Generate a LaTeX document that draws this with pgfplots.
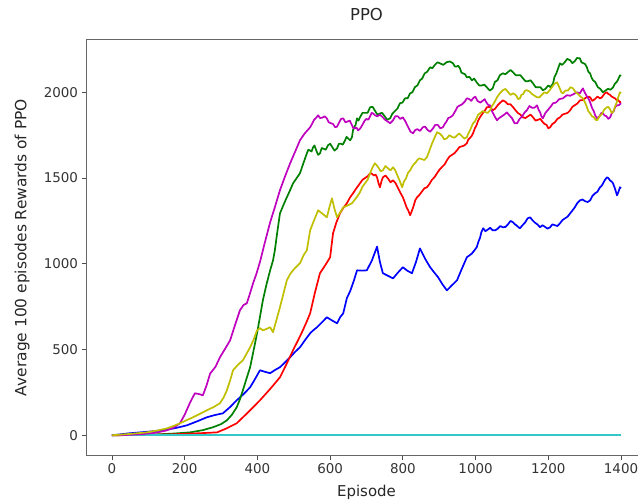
\documentclass[border=0pt]{standalone}
\usepackage{fontspec}
\setmainfont{DejaVu Sans}
\usepackage{pgfplots}
\pgfplotsset{compat=1.18}
\definecolor{mb}{rgb}{0,0,1}
\definecolor{mg}{rgb}{0,0.5,0}
\definecolor{mr}{rgb}{1,0,0}
\definecolor{mc}{rgb}{0.2,0.78,0.78}
\definecolor{mm}{rgb}{0.75,0,0.75}
\definecolor{my}{rgb}{0.75,0.75,0}
\begin{document}
\begin{tikzpicture}
\begin{axis}[
  at={(86.5bp,46bp)}, anchor=south west,
  scale only axis, width=560bp, height=415bp,
  xmin=-70, xmax=1470, ymin=-115, ymax=2305,
  xtick={0,200,400,600,800,1000,1200,1400},
  ytick={0,500,1000,1500,2000},
  tick align=outside, major tick length=5bp,
  tick style={black!70, line width=0.8bp},
  xtick pos=bottom, ytick pos=left,
  axis line style={black!60, line width=1bp},
  ticklabel style={font=\fontsize{13.5}{15}\selectfont, text=black!80},
  /pgf/number format/assume math mode=true,
  /pgf/number format/1000 sep={},
  title={PPO},
  title style={at={(axis description cs:0.5,1.048)}, anchor=center, text=black!85, font=\fontsize{16.5}{18}\selectfont},
  xlabel={Episode},
  xlabel style={at={(axis description cs:0.5,-0.089)}, anchor=center, text=black!85, font=\fontsize{15}{17}\selectfont},
  ylabel={Average 100 episodes Rewards of PPO},
  ylabel style={at={(axis description cs:-0.115,0.5)}, anchor=center, text=black!85, font=\fontsize{15.5}{17}\selectfont},
  every axis plot/.append style={line width=1.7bp, line join=round},
]
\addplot[mb] coordinates {(0,0) (50,12) (95,20) (140,29) (175,42) (206,58) (235,82) (261,105) (283,118) (305,128) (325,165) (343,204) (362,240) (380,280) (394,330) (407,379) (421,370) (435,362) (448,380) (462,397) (476,425) (490,455) (503,485) (517,513) (531,555) (545,595) (555,615) (564,630) (578,660) (591,688) (605,670) (619,653) (628,690) (636,711) (646,800) (655,840) (665,900) (674,962) (688,960) (701,962) (715,1020) (729,1100) (737,1010) (745,945) (759,930) (773,915) (787,950) (800,980) (812,960) (825,945) (836,1010) (847,1090) (861,1030) (875,980) (886,950) (897,921) (909,880) (921,845) (935,875) (949,904) (962,970) (976,1038) (990,1060) (1003,1096) (1008,1130) (1012,1150) (1016,1185) (1021,1207) (1027,1190) (1034,1200) (1040,1210) (1047,1195) (1054,1195) (1061,1205) (1068,1220) (1075,1213) (1082,1215) (1089,1230) (1096,1250) (1103,1242) (1108,1230) (1112,1225) (1117,1215) (1122,1207) (1129,1225) (1136,1240) (1143,1265) (1150,1271) (1156,1255) (1163,1240) (1170,1230) (1177,1213) (1184,1225) (1191,1215) (1198,1205) (1205,1213) (1211,1230) (1218,1225) (1225,1220) (1232,1236) (1239,1255) (1246,1265) (1253,1275) (1260,1294) (1266,1310) (1273,1330) (1280,1355) (1287,1370) (1294,1375) (1301,1365) (1308,1360) (1315,1370) (1321,1395) (1328,1410) (1335,1420) (1342,1446) (1347,1455) (1352,1475) (1356,1490) (1361,1504) (1365,1500) (1370,1485) (1374,1480) (1378,1469) (1383,1440) (1389,1399) (1393,1420) (1397,1446) (1400,1440)};
\addplot[mg] coordinates {(0,0) (60,2) (120,5) (170,10) (215,17) (250,30) (278,47) (300,65) (316,87) (330,120) (343,163) (352,210) (360,262) (370,330) (380,397) (390,500) (399,595) (407,690) (415,787) (425,880) (435,962) (443,1020) (448,1079) (455,1190) (462,1294) (472,1345) (481,1388) (490,1430) (498,1469) (508,1500) (517,1528) (527,1590) (536,1644) (540,1665) (545,1660) (549,1655) (553,1679) (557,1690) (562,1660) (567,1635) (572,1644) (577,1675) (583,1670) (588,1665) (594,1691) (600,1700) (606,1680) (612,1660) (619,1673) (624,1700) (630,1700) (635,1695) (641,1720) (645,1740) (650,1730) (655,1720) (660,1738) (663,1780) (667,1800) (670,1810) (674,1848) (678,1835) (682,1854) (689,1880) (696,1880) (703,1880) (710,1913) (717,1915) (724,1890) (730,1870) (737,1877) (743,1880) (750,1860) (757,1840) (765,1848) (771,1875) (778,1890) (785,1905) (792,1936) (799,1940) (806,1965) (813,1965) (820,1994) (826,2000) (833,2030) (840,2040) (847,2070) (853,2080) (860,2110) (867,2120) (875,2146) (881,2140) (888,2160) (895,2175) (902,2169) (911,2160) (920,2175) (929,2180) (938,2169) (943,2150) (948,2150) (952,2155) (957,2140) (961,2115) (966,2110) (971,2105) (976,2087) (983,2090) (990,2070) (996,2080) (1003,2058) (1010,2040) (1017,2040) (1024,2045) (1031,2029) (1039,2010) (1047,2023) (1053,2060) (1060,2070) (1067,2100) (1075,2111) (1082,2105) (1090,2120) (1096,2130) (1103,2117) (1110,2100) (1116,2100) (1123,2100) (1130,2082) (1137,2065) (1144,2065) (1151,2070) (1158,2052) (1165,2030) (1172,2030) (1178,2030) (1185,2012) (1192,2020) (1200,2040) (1206,2030) (1213,2052) (1217,2090) (1222,2110) (1227,2140) (1232,2169) (1238,2160) (1245,2175) (1252,2195) (1260,2187) (1266,2170) (1272,2180) (1279,2200) (1287,2198) (1291,2175) (1296,2170) (1301,2165) (1306,2146) (1310,2120) (1315,2110) (1319,2085) (1323,2070) (1329,2060) (1336,2030) (1343,2020) (1350,2000) (1357,2010) (1364,2020) (1371,2015) (1378,2029) (1383,2050) (1388,2060) (1392,2075) (1397,2099) (1400,2095)};
\addplot[mr] coordinates {(0,0) (80,2) (160,5) (242,12) (270,15) (289,17) (315,40) (343,70) (375,135) (407,204) (435,270) (462,338) (480,415) (498,496) (512,555) (525,612) (535,660) (545,711) (558,830) (572,945) (586,990) (600,1038) (608,1178) (617,1240) (627,1294) (636,1325) (646,1353) (655,1388) (663,1411) (672,1440) (682,1469) (689,1490) (696,1500) (703,1510) (710,1528) (715,1525) (720,1515) (725,1520) (729,1504) (733,1470) (737,1446) (741,1480) (745,1504) (752,1515) (760,1495) (766,1475) (773,1487) (780,1470) (787,1440) (793,1415) (800,1388) (805,1360) (810,1330) (815,1310) (820,1283) (825,1310) (830,1340) (834,1370) (839,1388) (845,1400) (852,1420) (859,1440) (866,1446) (873,1465) (880,1490) (887,1505) (894,1528) (901,1550) (908,1565) (915,1580) (921,1603) (928,1625) (935,1635) (942,1645) (949,1662) (955,1680) (962,1685) (969,1690) (976,1703) (980,1725) (985,1735) (989,1745) (993,1761) (998,1790) (1003,1810) (1007,1835) (1012,1854) (1017,1870) (1022,1885) (1026,1895) (1031,1913) (1039,1915) (1047,1895) (1054,1905) (1061,1925) (1068,1940) (1075,1953) (1082,1945) (1089,1930) (1096,1930) (1103,1913) (1110,1895) (1116,1880) (1123,1870) (1130,1854) (1137,1850) (1144,1860) (1151,1870) (1158,1854) (1165,1835) (1172,1840) (1178,1845) (1185,1825) (1190,1815) (1195,1810) (1200,1790) (1205,1796) (1211,1815) (1218,1825) (1225,1845) (1232,1854) (1239,1870) (1246,1875) (1253,1880) (1260,1895) (1266,1915) (1273,1925) (1280,1935) (1287,1953) (1294,1955) (1301,1965) (1308,1975) (1315,1971) (1321,1950) (1328,1960) (1335,1975) (1342,1965) (1347,1970) (1352,1985) (1356,1995) (1361,2000) (1365,1990) (1370,1985) (1374,1975) (1378,1971) (1383,1965) (1388,1955) (1392,1955) (1397,1942) (1400,1945)};
\addplot[mc] coordinates {(0,0) (1400,0)};
\addplot[mm] coordinates {(0,0) (40,2) (80,6) (120,15) (150,28) (170,45) (187,70) (200,120) (215,192) (228,245) (240,240) (250,233) (260,290) (270,360) (285,400) (297,455) (310,500) (325,554) (338,640) (352,729) (362,760) (371,770) (380,830) (388,886) (397,940) (407,1010) (420,1120) (435,1242) (448,1330) (462,1429) (476,1510) (490,1586) (503,1650) (517,1720) (530,1760) (545,1796) (550,1815) (556,1840) (561,1850) (567,1866) (572,1850) (578,1852) (585,1860) (591,1848) (596,1825) (602,1820) (608,1815) (614,1796) (619,1800) (625,1825) (630,1845) (636,1848) (642,1825) (648,1830) (654,1835) (660,1808) (664,1790) (668,1790) (672,1795) (677,1778) (683,1790) (690,1815) (695,1835) (700,1845) (705,1840) (710,1860) (714,1880) (718,1877) (724,1865) (730,1860) (737,1870) (745,1854) (751,1840) (758,1830) (765,1820) (773,1837) (779,1860) (786,1860) (793,1845) (800,1854) (807,1830) (814,1800) (821,1770) (828,1761) (834,1780) (840,1785) (847,1775) (855,1796) (861,1800) (868,1780) (875,1770) (883,1790) (889,1810) (896,1810) (903,1790) (910,1796) (915,1815) (920,1830) (925,1850) (930,1854) (937,1865) (944,1890) (950,1915) (957,1924) (963,1930) (970,1945) (976,1965) (983,1960) (988,1950) (993,1965) (999,1975) (1005,1950) (1013,1940) (1021,1953) (1025,1960) (1030,1940) (1035,1925) (1040,1924) (1045,1890) (1050,1870) (1055,1850) (1059,1837) (1065,1850) (1072,1860) (1079,1870) (1086,1883) (1093,1865) (1100,1850) (1107,1820) (1114,1819) (1121,1845) (1128,1860) (1134,1880) (1141,1895) (1148,1920) (1155,1910) (1162,1910) (1169,1924) (1173,1900) (1178,1880) (1181,1860) (1185,1848) (1192,1880) (1200,1900) (1206,1915) (1213,1936) (1221,1940) (1230,1960) (1240,1965) (1251,1983) (1260,1980) (1270,1990) (1278,2000) (1287,1994) (1291,2010) (1295,2023) (1300,2000) (1305,1980) (1310,1965) (1315,1942) (1320,1910) (1325,1890) (1329,1865) (1334,1848) (1338,1855) (1342,1865) (1346,1880) (1350,1877) (1355,1865) (1360,1860) (1365,1845) (1370,1854) (1375,1880) (1380,1890) (1384,1915) (1389,1924) (1394,1925) (1400,1936)};
\addplot[my] coordinates {(0,0) (50,8) (96,17) (125,28) (151,40) (170,55) (187,70) (205,88) (223,105) (242,125) (261,146) (280,165) (297,187) (307,220) (316,262) (325,320) (333,379) (346,410) (360,437) (370,475) (380,513) (390,560) (399,612) (407,625) (415,612) (425,620) (435,630) (443,601) (452,670) (462,746) (472,830) (481,904) (490,940) (498,962) (508,985) (517,1003) (527,1050) (536,1079) (545,1195) (556,1255) (567,1312) (580,1290) (591,1271) (598,1330) (605,1382) (612,1320) (619,1271) (628,1300) (636,1329) (648,1340) (660,1353) (672,1385) (682,1417) (689,1450) (696,1470) (703,1490) (710,1528) (716,1560) (723,1586) (728,1575) (733,1560) (739,1540) (745,1545) (752,1570) (760,1555) (766,1545) (773,1563) (779,1545) (786,1510) (792,1480) (798,1446) (803,1480) (809,1500) (814,1530) (820,1545) (825,1565) (830,1580) (835,1590) (839,1603) (845,1615) (852,1610) (859,1605) (866,1621) (873,1660) (880,1700) (887,1735) (894,1767) (901,1760) (908,1745) (914,1725) (921,1732) (928,1750) (935,1740) (942,1735) (949,1749) (955,1760) (962,1745) (969,1730) (976,1738) (980,1760) (985,1780) (989,1800) (993,1819) (998,1830) (1003,1850) (1007,1870) (1012,1877) (1019,1890) (1026,1885) (1033,1880) (1040,1895) (1045,1920) (1050,1935) (1055,1955) (1059,1971) (1067,1995) (1075,2012) (1082,2020) (1090,2000) (1096,1985) (1103,1994) (1107,1990) (1112,1980) (1117,1960) (1122,1965) (1126,1985) (1131,1990) (1136,2010) (1141,2012) (1148,2005) (1155,1990) (1162,1980) (1169,1971) (1175,1970) (1182,1985) (1189,2000) (1196,1994) (1203,2010) (1210,2030) (1217,2050) (1224,2058) (1228,2040) (1232,2020) (1236,2000) (1240,1994) (1247,2010) (1254,2010) (1261,2030) (1268,2023) (1275,2000) (1282,1990) (1288,1975) (1295,1965) (1300,1945) (1305,1920) (1310,1890) (1315,1877) (1320,1860) (1325,1855) (1330,1840) (1334,1837) (1341,1860) (1348,1875) (1354,1900) (1361,1913) (1365,1915) (1370,1900) (1374,1880) (1378,1883) (1383,1915) (1388,1940) (1392,1970) (1397,2000) (1400,1995)};
\end{axis}
\pgfresetboundingbox
\path (0,0) rectangle (638bp,501bp);
\end{tikzpicture}
\end{document}
